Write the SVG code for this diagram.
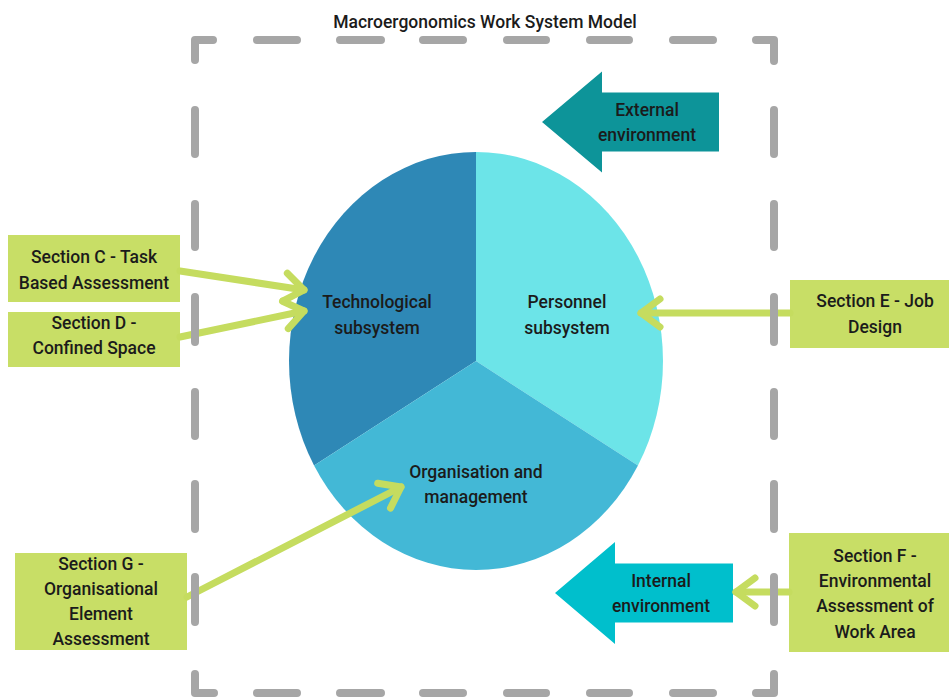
<svg xmlns="http://www.w3.org/2000/svg" width="949" height="698" viewBox="0 0 949 698">
  <style>
    text { font-family: Roboto, "Noto Sans", "Liberation Sans", sans-serif; font-size: 17.5px; font-weight: 500; fill: #1b1b1b; text-anchor: middle; }
    .box { fill: #C8DE66; }
    .link { fill: none; stroke: #C5DC5F; stroke-width: 7; stroke-linecap: round; }
    .frame { fill: none; stroke: #A6A6A6; stroke-width: 8; stroke-linecap: round; stroke-linejoin: round; }
  </style>
  <defs>
    <marker id="chevron" markerUnits="userSpaceOnUse" viewBox="-30 -20 40 40" refX="0" refY="0" markerWidth="40" markerHeight="40" orient="auto" overflow="visible">
      <path d="M-19,-14 L0,0 L-19,14" fill="none" stroke="#C5DC5F" stroke-width="7" stroke-linecap="round" stroke-linejoin="round"/>
    </marker>
  </defs>

  <rect width="949" height="698" fill="#ffffff"/>

  <text id="title" x="485" y="28">Macroergonomics Work System Model</text>

  <!-- three-part work system ellipse -->
  <g id="technological">
    <path d="M476,361 L476,152 A187,209 0 0,0 314.06,465.5 Z" fill="#2E88B6"/>
    <text x="377" y="308">Technological</text>
    <text x="377" y="334">subsystem</text>
  </g>
  <g id="personnel">
    <path d="M476,361 L476,152 A187,209 0 0,1 637.94,465.5 Z" fill="#6CE4E8"/>
    <text x="567" y="308">Personnel</text>
    <text x="567" y="334">subsystem</text>
  </g>
  <g id="organisation">
    <path d="M476,361 L314.06,465.5 A187,209 0 0,0 637.94,465.5 Z" fill="#43B8D6"/>
    <text x="476" y="478">Organisation and</text>
    <text x="476" y="503">management</text>
  </g>

  <!-- environment block arrows -->
  <g id="external-environment">
    <polygon points="542,122 602,71.5 602,92.5 719,92.5 719,151.5 602,151.5 602,172.5" fill="#0D9499"/>
    <text x="647" y="116">External</text>
    <text x="647" y="141">environment</text>
  </g>
  <g id="internal-environment">
    <polygon points="555,593 615,542 615,563.5 733,563.5 733,622.5 615,622.5 615,644" fill="#00BFCC"/>
    <text x="661" y="587">Internal</text>
    <text x="661" y="612">environment</text>
  </g>

  <!-- assessment sections -->
  <g id="section-c">
    <rect class="box" x="8" y="235" width="172" height="67"/>
    <text x="94" y="263">Section C - Task</text>
    <text x="94" y="289">Based Assessment</text>
  </g>
  <g id="section-d">
    <rect class="box" x="8" y="312" width="172" height="55"/>
    <text x="94" y="329">Section D -</text>
    <text x="94" y="354">Confined Space</text>
  </g>
  <g id="section-e">
    <rect class="box" x="790" y="280" width="159" height="68"/>
    <text x="875" y="307">Section E - Job</text>
    <text x="875" y="333">Design</text>
  </g>
  <g id="section-f">
    <rect class="box" x="789" y="533" width="160" height="119"/>
    <text x="875" y="562">Section F -</text>
    <text x="875" y="587">Environmental</text>
    <text x="875" y="612">Assessment of</text>
    <text x="875" y="638">Work Area</text>
  </g>
  <g id="section-g">
    <rect class="box" x="15" y="553" width="172" height="97"/>
    <text x="101" y="570">Section G -</text>
    <text x="101" y="595">Organisational</text>
    <text x="101" y="620">Element</text>
    <text x="101" y="645">Assessment</text>
  </g>

  <!-- connectors -->
  <g id="connectors">
    <path class="link" d="M180,271 L304,290" marker-end="url(#chevron)"/>
    <path class="link" d="M180,337 L304,311" marker-end="url(#chevron)"/>
    <path class="link" d="M790,313 L641,313" marker-end="url(#chevron)"/>
    <path class="link" d="M789,592 L736,592" marker-end="url(#chevron)"/>
    <path class="link" d="M187,597 L401,487" marker-end="url(#chevron)"/>
  </g>

  <!-- dashed system boundary -->
  <g id="boundary">
    <path class="frame" d="M213,40 H195 V60 M756,40 H774 V61 M195,674 V693 H214 M756,693 H774 V674"/>
    <path class="frame" d="M257,40 H297 M340,40 H381 M423,40 H463 M507,40 H546 M590,40 H629 M673,40 H713"/>
    <path class="frame" d="M257,693 H297 M340,693 H381 M423,693 H463 M507,693 H546 M590,693 H629 M673,693 H713"/>
    <path class="frame" d="M195,110 V154 M195,204 V247 M195,297 V342 M195,392 V436 M195,484 V529 M195,577 V622"/>
    <path class="frame" d="M774,110 V154 M774,204 V247 M774,297 V342 M774,392 V436 M774,484 V529 M774,577 V622"/>
  </g>
</svg>
